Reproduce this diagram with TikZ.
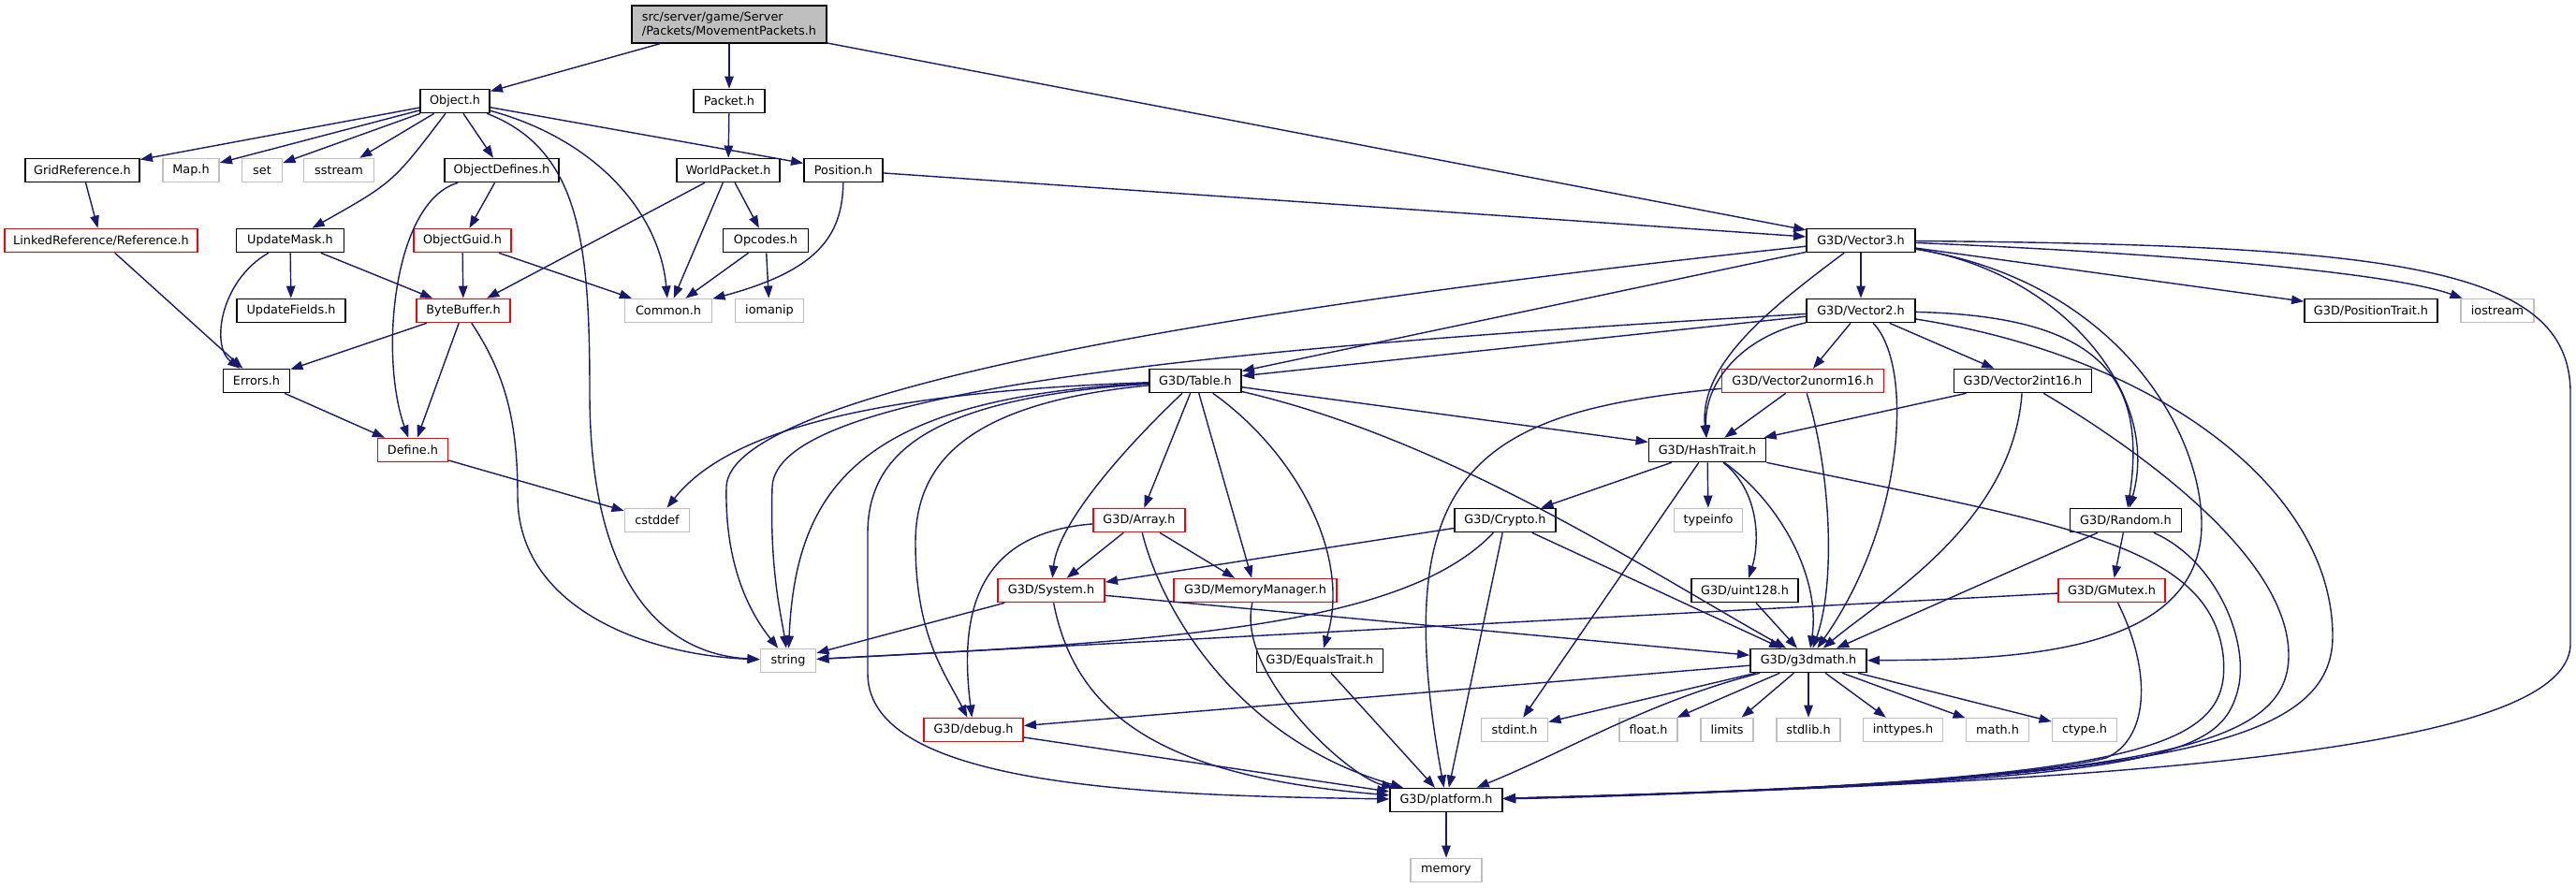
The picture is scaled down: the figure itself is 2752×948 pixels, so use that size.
\documentclass[tikz,border=0pt]{standalone}
\usepackage{fontspec}
\setmainfont{DejaVu Sans}
\usepackage{tikz}
\usetikzlibrary{arrows.meta}
\definecolor{edgeblue}{RGB}{25,25,112}
\definecolor{extgray}{RGB}{191,191,191}

\begin{document}
\begin{tikzpicture}[x=0.02cm, y=-0.02cm,
    file/.style={draw, line width=0.9pt, inner sep=0pt, minimum height=0.5cm, fill=white, font=\fontsize{7.3}{8.6}\selectfont},
    bw/.style={minimum width=#1*0.02cm},
    hdr/.style={file, draw=black},
    ext/.style={file, draw=extgray},
    trunc/.style={file, draw=red},
    rootfile/.style={file, draw=black, fill=extgray, align=left, minimum height=0.8cm},
    dep/.style={draw=edgeblue, line width=0.8pt, -{Triangle[length=7.5pt, width=5.4pt]}},
]
    \useasboundingbox (0,0) rectangle (2752,948);

    \node[rootfile, bw=208] (root) at (779,26) {src/server/game/Server\\/Packets/MovementPackets.h};
    \node[hdr, bw=74] (obj) at (486,108) {Object.h};
    \node[hdr, bw=76] (packet) at (779,108) {Packet.h};
    \node[hdr, bw=122] (gridref) at (88,182) {GridReference.h};
    \node[ext, bw=60] (maph) at (204,182) {Map.h};
    \node[ext, bw=43] (set) at (280,182) {set};
    \node[ext, bw=75] (sstream) at (362,182) {sstream};
    \node[hdr, bw=122] (objdef) at (536,182) {ObjectDefines.h};
    \node[hdr, bw=110] (worldpkt) at (778,182) {WorldPacket.h};
    \node[hdr, bw=84] (position) at (901,182) {Position.h};
    \node[trunc, bw=206] (linkref) at (108,257) {LinkedReference/Reference.h};
    \node[hdr, bw=115] (updmask) at (310,257) {UpdateMask.h};
    \node[trunc, bw=104] (objguid) at (494,257) {ObjectGuid.h};
    \node[hdr, bw=91] (opcodes) at (818,257) {Opcodes.h};
    \node[hdr, bw=116] (vecthree) at (1988,257) {G3D/Vector3.h};
    \node[hdr, bw=116] (updfields) at (311,332) {UpdateFields.h};
    \node[trunc, bw=100] (bytebuf) at (495,332) {ByteBuffer.h};
    \node[ext, bw=93] (common) at (714,332) {Common.h};
    \node[ext, bw=73] (iomanip) at (822,332) {iomanip};
    \node[hdr, bw=116] (vectwo) at (1988,332) {G3D/Vector2.h};
    \node[hdr, bw=142] (postrait) at (2533,332) {G3D/PositionTrait.h};
    \node[ext, bw=78] (iostream) at (2668,332) {iostream};
    \node[hdr, bw=71] (errors) at (274,407) {Errors.h};
    \node[hdr, bw=98] (table) at (1277,407) {G3D/Table.h};
    \node[trunc, bw=173] (vtwounorm) at (1926,407) {G3D/Vector2unorm16.h};
    \node[hdr, bw=147] (vtwoint) at (2161,407) {G3D/Vector2int16.h};
    \node[trunc, bw=75] (define) at (441,481) {Define.h};
    \node[hdr, bw=125] (hashtrait) at (1824,481) {G3D/HashTrait.h};
    \node[ext, bw=69] (cstddef) at (702,556) {cstddef};
    \node[trunc, bw=98] (array) at (1217,556) {G3D/Array.h};
    \node[hdr, bw=108] (crypto) at (1608,556) {G3D/Crypto.h};
    \node[ext, bw=73] (typeinfo) at (1825,556) {typeinfo};
    \node[hdr, bw=119] (random) at (2271,556) {G3D/Random.h};
    \node[trunc, bw=114] (system) at (1123,631) {G3D/System.h};
    \node[trunc, bw=174] (memmgr) at (1341,631) {G3D/MemoryManager.h};
    \node[hdr, bw=114] (uint) at (1864,631) {G3D/uint128.h};
    \node[trunc, bw=114] (gmutex) at (2256,631) {G3D/GMutex.h};
    \node[ext, bw=59] (string) at (842,706) {string};
    \node[hdr, bw=135] (equals) at (1410,706) {G3D/EqualsTrait.h};
    \node[hdr, bw=124] (gmath) at (1932,706) {G3D/g3dmath.h};
    \node[trunc, bw=106] (debug) at (1040,780) {G3D/debug.h};
    \node[ext, bw=71] (stdint) at (1618,780) {stdint.h};
    \node[ext, bw=62] (floath) at (1761,780) {float.h};
    \node[ext, bw=56] (limits) at (1845,780) {limits};
    \node[ext, bw=68] (stdlib) at (1932,780) {stdlib.h};
    \node[ext, bw=85] (inttypes) at (2033,780) {inttypes.h};
    \node[ext, bw=67] (mathh) at (2134,780) {math.h};
    \node[ext, bw=69] (ctype) at (2227,780) {ctype.h};
    \node[hdr, bw=120] (platform) at (1545,855) {G3D/platform.h};
    \node[ext, bw=76] (memory) at (1545,930) {memory};

    \draw[dep] (root) -- (obj);
    \draw[dep] (root) -- (packet);
    \draw[dep] (root) -- (vecthree);
    \draw[dep] (obj) -- (gridref);
    \draw[dep] (obj) -- (maph);
    \draw[dep] (obj) -- (set);
    \draw[dep] (obj) -- (sstream);
    \draw[dep] (obj) .. controls (420,195) .. (updmask);
    \draw[dep] (obj) -- (objdef);
    \draw[dep] (obj) .. controls (640,150) and (705,230) .. (common);
    \draw[dep] (obj) .. controls (620,160) and (630,260) .. (630,420) .. controls (630,640) and (720,700) .. (string);
    \draw[dep] (obj) -- (position);
    \draw[dep] (gridref) -- (linkref);
    \draw[dep] (linkref) -- (errors);
    \draw[dep] (objdef) -- (objguid);
    \draw[dep] (objdef) .. controls (420,215) and (405,380) .. (define);
    \draw[dep] (objguid) -- (bytebuf);
    \draw[dep] (objguid) -- (common);
    \draw[dep] (updmask) -- (updfields);
    \draw[dep] (updmask) -- (bytebuf);
    \draw[dep] (updmask) .. controls (235,300) and (225,370) .. (errors);
    \draw[dep] (bytebuf) -- (errors);
    \draw[dep] (bytebuf) -- (define);
    \draw[dep] (bytebuf) .. controls (540,400) and (553,450) .. (553,530) .. controls (553,650) and (690,700) .. (string);
    \draw[dep] (errors) -- (define);
    \draw[dep] (define) -- (cstddef);
    \draw[dep] (packet) -- (worldpkt);
    \draw[dep] (worldpkt) -- (bytebuf);
    \draw[dep] (worldpkt) -- (common);
    \draw[dep] (worldpkt) -- (opcodes);
    \draw[dep] (opcodes) -- (common);
    \draw[dep] (opcodes) -- (iomanip);
    \draw[dep] (position) .. controls (900,255) and (870,290) .. (common);
    \draw[dep] (position) -- (vecthree);

    \draw[dep] (vecthree) -- (vectwo);
    \draw[dep] (vecthree) -- (table);
    \draw[dep] (vecthree) .. controls (1300,330) and (780,420) .. (776,520) .. controls (774,610) and (805,660) .. (string);
    \draw[dep] (vecthree) .. controls (1890,330) and (1815,390) .. (hashtrait);
    \draw[dep] (vecthree) -- (postrait);
    \draw[dep] (vecthree) .. controls (2300,270) and (2550,290) .. (iostream);
    \draw[dep] (vecthree) .. controls (2200,290) and (2310,420) .. (random);
    \draw[dep] (vecthree) .. controls (2260,300) and (2352,460) .. (2352,560) .. controls (2352,700) and (2150,705) .. (gmath);
    \draw[dep] (vecthree) .. controls (2560,262) and (2746,285) .. (2746,420) -- (2746,690) .. controls (2740,800) and (2300,835) .. (platform);
    \draw[dep] (vectwo) .. controls (1250,375) and (830,420) .. (825,520) .. controls (822,610) and (835,660) .. (string);
    \draw[dep] (vectwo) -- (table);
    \draw[dep] (vectwo) .. controls (1860,360) and (1820,410) .. (hashtrait);
    \draw[dep] (vectwo) -- (vtwounorm);
    \draw[dep] (vectwo) -- (vtwoint);
    \draw[dep] (vectwo) .. controls (2045,390) and (2035,560) .. (gmath);
    \draw[dep] (vectwo) .. controls (2240,338) and (2295,400) .. (random);
    \draw[dep] (vectwo) .. controls (2300,380) and (2492,520) .. (2492,680) .. controls (2492,800) and (2300,835) .. (platform);

    \draw[dep] (table) .. controls (900,420) and (770,470) .. (cstddef);
    \draw[dep] (table) .. controls (920,425) and (850,520) .. (string);
    \draw[dep] (table) .. controls (1000,425) and (927,480) .. (927,570) -- (927,720) .. controls (927,845) and (1250,850) .. (platform);
    \draw[dep] (table) .. controls (1040,430) and (978,490) .. (978,580) .. controls (978,680) and (1010,720) .. (debug);
    \draw[dep] (table) .. controls (1200,480) and (1130,560) .. (system);
    \draw[dep] (table) -- (array);
    \draw[dep] (table) -- (memmgr);
    \draw[dep] (table) .. controls (1380,480) and (1445,590) .. (equals);
    \draw[dep] (table) -- (hashtrait);
    \draw[dep] (table) .. controls (1550,470) and (1760,610) .. (gmath);
    \draw[dep] (array) -- (system);
    \draw[dep] (array) -- (memmgr);
    \draw[dep] (array) .. controls (1040,570) and (1025,660) .. (debug);
    \draw[dep] (array) .. controls (1240,650) and (1320,790) .. (platform);
    \draw[dep] (system) -- (string);
    \draw[dep] (system) -- (gmath);
    \draw[dep] (system) .. controls (1150,770) and (1250,830) .. (platform);
    \draw[dep] (memmgr) .. controls (1320,720) and (1440,830) .. (platform);
    \draw[dep] (equals) -- (platform);
    \draw[dep] (debug) -- (platform);

    \draw[dep] (vtwounorm) -- (hashtrait);
    \draw[dep] (vtwounorm) .. controls (1955,500) and (1962,620) .. (gmath);
    \draw[dep] (vtwounorm) .. controls (1580,440) and (1480,500) .. (platform);
    \draw[dep] (vtwoint) -- (hashtrait);
    \draw[dep] (vtwoint) .. controls (2150,560) and (2010,640) .. (gmath);
    \draw[dep] (vtwoint) .. controls (2300,490) and (2445,600) .. (2445,700) .. controls (2445,800) and (2300,835) .. (platform);
    \draw[dep] (hashtrait) -- (crypto);
    \draw[dep] (hashtrait) -- (typeinfo);
    \draw[dep] (hashtrait) .. controls (1880,525) and (1880,580) .. (uint);
    \draw[dep] (hashtrait) -- (stdint);
    \draw[dep] (hashtrait) .. controls (1905,540) and (1945,620) .. (gmath);
    \draw[dep] (hashtrait) .. controls (2200,560) and (2360,580) .. (2375,700) .. controls (2385,800) and (2300,835) .. (platform);
    \draw[dep] (crypto) .. controls (1500,670) and (1250,685) .. (string);
    \draw[dep] (crypto) -- (system);
    \draw[dep] (crypto) -- (platform);
    \draw[dep] (crypto) -- (gmath);
    \draw[dep] (random) -- (gmutex);
    \draw[dep] (random) -- (gmath);
    \draw[dep] (random) .. controls (2370,600) and (2405,690) .. (2390,740) .. controls (2370,810) and (2300,835) .. (platform);
    \draw[dep] (gmutex) -- (string);
    \draw[dep] (gmutex) .. controls (2300,720) and (2295,790) .. (2250,810) .. controls (2150,835) and (1800,850) .. (platform);
    \draw[dep] (uint) -- (gmath);
    \draw[dep] (gmath) -- (debug);
    \draw[dep] (gmath) -- (stdint);
    \draw[dep] (gmath) -- (floath);
    \draw[dep] (gmath) -- (limits);
    \draw[dep] (gmath) -- (stdlib);
    \draw[dep] (gmath) -- (inttypes);
    \draw[dep] (gmath) -- (mathh);
    \draw[dep] (gmath) -- (ctype);
    \draw[dep] (gmath) .. controls (1760,750) and (1680,800) .. (platform);
    \draw[dep] (platform) -- (memory);
\end{tikzpicture}
\end{document}
